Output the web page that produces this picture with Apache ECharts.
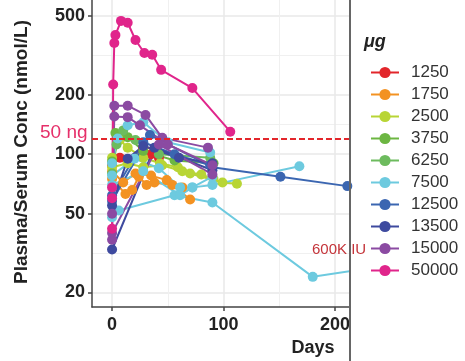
<!DOCTYPE html>
<html>
<head>
<meta charset="utf-8">
<script src="https://cdn.jsdelivr.net/npm/echarts@6/dist/echarts.min.js"></script>
<style>
html,body{margin:0;padding:0;background:#fff;}
#chart{width:465px;height:361px;}
</style>
</head>
<body>
<div id="chart"></div>
<script>
// ---- data ----
const doses = ['1250','1750','2500','3750','6250','7500','12500','13500','15000','50000'];
const doseColors = ['#e2262b','#f39222','#b8d535','#6cb642','#6dbb5e','#6dcadf','#3b66b1','#3e4a9f','#8b4aa2','#e0258b'];
const xTicks = [0, 100, 200];
const xMinorTicks = [50, 150];
const yTicks = [20, 50, 100, 200, 500];
const yMinorTicks = [31.6, 70.7, 141.4, 316.2];
const refLine50ng = 119;

// subjects: [day, nmol/L]
const red1 = [[0,88],[7,96],[14,92],[28,108],[35,100],[42,96]];
const orange1 = [[0,75],[12,63],[18,66],[24,77],[31,70],[38,72],[54,70],[70,59]];
const orange2 = [[0,82],[10,72],[21,80],[35,78],[49,74],[63,68]];
const lime1 = [[0,96],[7,118],[14,108],[28,96],[43,90],[59,86],[70,80],[99,72],[112,71]];
const lime2 = [[0,86],[14,90],[28,86],[45,88],[63,82],[80,79],[91,75]];
const green1 = [[0,92],[3,128],[14,122],[28,104],[56,93],[91,90]];
const green2 = [[0,80],[4,112],[10,132],[21,118],[42,100],[88,96]];
const cyan1 = [[0,48],[6,52],[56,62],[90,57],[180,24],[220,26]];
const cyan2 = [[0,90],[5,120],[14,140],[28,145],[50,115],[88,102]];
const cyan3 = [[0,78],[20,95],[42,85],[61,68],[72,68],[90,70],[168,87]];
const cyan4 = [[0,70],[28,82],[61,62],[72,68],[90,77]];
const blue1 = [[0,58],[34,125],[90,86],[151,77],[211,69]];
const blue2 = [[0,62],[28,115],[56,100],[88,88]];
const navy1 = [[0,33],[38,108],[90,83]];
const navy2 = [[0,55],[14,95],[28,110],[60,96],[90,90]];
const purple1 = [[0,37],[2,176],[14,176],[30,158],[45,121],[86,108]];
const purple2 = [[0,50],[2,155],[14,154],[25,140],[50,112],[90,88]];
const purple3 = [[0,40],[42,112],[90,79]];
const pink1 = [[0,42],[1,225],[2,365],[3,400],[8,472],[14,462],[21,378],[29,325],[36,318],[44,267],[72,216],[106,130]];
const pink2 = [[0,68]];
const pink3 = [[0,60]];

const subjects = [
  ['1250', red1],
  ['1750', orange1], ['1750', orange2],
  ['2500', lime1], ['2500', lime2],
  ['3750', green1],
  ['6250', green2],
  ['7500', cyan1], ['7500', cyan2], ['7500', cyan3], ['7500', cyan4],
  ['12500', blue1], ['12500', blue2],
  ['13500', navy1], ['13500', navy2],
  ['15000', purple1], ['15000', purple2], ['15000', purple3],
  ['50000', pink1], ['50000', pink2], ['50000', pink3]
];

// ---- build ----
const L = v => Math.log10(v);
const series = subjects.map(([dose, pts]) => {
  const c = doseColors[doses.indexOf(dose)];
  return {
    name: dose, type: 'line', xAxisIndex: 0, yAxisIndex: 0,
    data: pts.map(p => [p[0], L(p[1])]),
    symbol: 'circle', symbolSize: 10, showSymbol: true,
    lineStyle: {color: c, width: 2}, itemStyle: {color: c},
    emphasis: {disabled: true}, silent: true, clip: true
  };
});
series.push({
  type: 'line', data: [], silent: true,
  markLine: {
    silent: true, symbol: ['none','none'], label: {show: false},
    lineStyle: {color: '#e3262b', width: 2, type: [6,3]},
    data: [{yAxis: L(refLine50ng)}]
  }
});

const gridL = 92, gridR = 350, gridT = 0, gridB = 307;
const xMin = -18, xMax = 213.4, yMin = L(16.9), yMax = L(602);

const chart = echarts.init(document.getElementById('chart'));
chart.setOption({
  animation: false,
  backgroundColor: '#fff',
  grid: {left: gridL, right: 465 - gridR, top: gridT, bottom: 361 - gridB, containLabel: false},
  xAxis: [{
    type: 'value', min: xMin, max: xMax, position: 'bottom',
    axisLine: {show: true, onZero: false, lineStyle: {color: '#444', width: 1.5}},
    axisTick: {show: true, length: 4, customValues: xTicks, lineStyle: {color: '#444', width: 1.5}},
    axisLabel: {customValues: xTicks, fontSize: 18, fontWeight: 'bold', color: '#222', margin: 9, fontFamily: 'Liberation Sans, Arial, sans-serif'},
    splitLine: {show: true, lineStyle: {color: '#e8e8e8', width: 1.5}}
  }, {
    type: 'value', min: xMin, max: xMax, position: 'bottom',
    axisLine: {show: false}, axisLabel: {show: false},
    axisTick: {show: false, customValues: xMinorTicks},
    splitLine: {show: true, lineStyle: {color: '#f0f0f0', width: 1}}
  }],
  yAxis: [{
    type: 'value', min: yMin, max: yMax,
    axisLine: {show: true, onZero: false, lineStyle: {color: '#444', width: 1.5}},
    axisTick: {show: true, length: 4, customValues: yTicks.map(L), lineStyle: {color: '#444', width: 1.5}},
    axisLabel: {customValues: yTicks.map(L), formatter: v => String(Math.round(Math.pow(10, v))),
      fontSize: 18, fontWeight: 'bold', color: '#222', margin: 7, fontFamily: 'Liberation Sans, Arial, sans-serif'},
    splitLine: {show: true, lineStyle: {color: '#e8e8e8', width: 1.5}}
  }, {
    type: 'value', min: yMin, max: yMax, position: 'left',
    axisLine: {show: false}, axisLabel: {show: false},
    axisTick: {show: false, customValues: yMinorTicks.map(L)},
    splitLine: {show: true, lineStyle: {color: '#f0f0f0', width: 1}}
  }],
  legend: {
    data: doses, orient: 'vertical', left: 365, top: 59,
    itemWidth: 28, itemHeight: 14, itemGap: 5,
    textStyle: {fontSize: 17, color: '#333', padding: [0,0,0,7], fontFamily: 'Liberation Sans, Arial, sans-serif'},
    selectedMode: false
  },
  graphic: [
    {type: 'line', silent: true, shape: {x1: 350, y1: 0, x2: 350, y2: 361}, style: {stroke: '#666', lineWidth: 2}, z: 100},
    {type: 'text', silent: true, x: 22, y: 152, rotation: Math.PI / 2,
      style: {text: 'Plasma/Serum Conc (nmol/L)', fontSize: 19, fontWeight: 'bold', fill: '#222', align: 'center', verticalAlign: 'middle', fontFamily: 'Liberation Sans, Arial, sans-serif'}},
    {type: 'text', silent: true, x: 313, y: 348,
      style: {text: 'Days', fontSize: 18, fontWeight: 'bold', fill: '#222', align: 'center', verticalAlign: 'middle', fontFamily: 'Liberation Sans, Arial, sans-serif'}},
    {type: 'text', silent: true, x: 364, y: 42,
      style: {text: 'μg', fontSize: 18, fontWeight: 'bold', fontStyle: 'italic', fill: '#222', align: 'left', verticalAlign: 'middle', fontFamily: 'Liberation Sans, Arial, sans-serif'}},
    {type: 'text', silent: true, x: 40, y: 133, z: 50,
      style: {text: '50 ng', fontSize: 19, fill: '#e6306a', align: 'left', verticalAlign: 'middle', fontFamily: 'Liberation Sans, Arial, sans-serif'}},
    {type: 'text', silent: true, x: 312, y: 250, z: 50,
      style: {text: '600K IU', fontSize: 15, fill: '#c4343a', align: 'left', verticalAlign: 'middle', fontFamily: 'Liberation Sans, Arial, sans-serif'}}
  ],
  series: series
});
</script>
</body>
</html>
